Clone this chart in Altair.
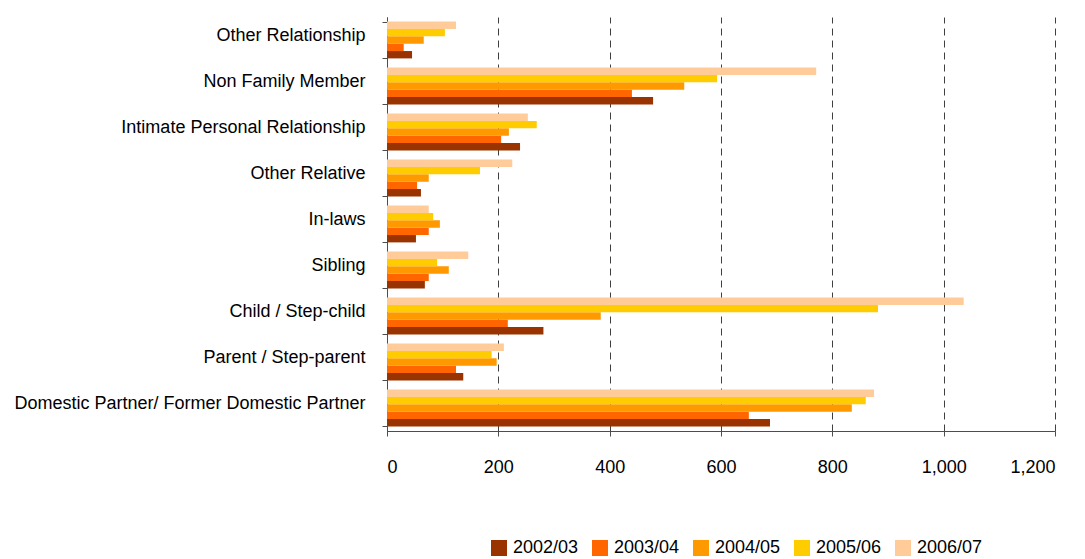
import altair as alt
import pandas as pd

categories = [
    "Other Relationship",
    "Non Family Member",
    "Intimate Personal Relationship",
    "Other Relative",
    "In-laws",
    "Sibling",
    "Child / Step-child",
    "Parent / Step-parent",
    "Domestic Partner/ Former Domestic Partner",
]
years = ["2002/03", "2003/04", "2004/05", "2005/06", "2006/07"]
v_2002_03 = [45, 478, 239, 61, 52, 68, 281, 137, 688]
v_2003_04 = [30, 440, 205, 54, 75, 75, 217, 124, 650]
v_2004_05 = [66, 534, 219, 75, 95, 111, 384, 197, 835]
v_2005_06 = [104, 593, 269, 167, 83, 90, 882, 188, 860]
v_2006_07 = [124, 771, 253, 225, 75, 146, 1036, 210, 875]
colors = ["#993300", "#FF6600", "#FF9900", "#FFCC00", "#FFCC99"]
x_ticks = [0, 200, 400, 600, 800, 1000, 1200]

series = [v_2002_03, v_2003_04, v_2004_05, v_2005_06, v_2006_07]
rows = []
for y, vals in zip(years, series):
    for c, v in zip(categories, vals):
        rows.append({"category": c, "year": y, "value": v})
df = pd.DataFrame(rows)

FONT = "Liberation Sans"
AXIS_COLOR = "#4d4d4d"

chart = (
    alt.Chart(df)
    .mark_bar()
    .encode(
        x=alt.X(
            "value:Q",
            scale=alt.Scale(domain=[0, 1200], nice=False),
            axis=alt.Axis(
                values=x_ticks,
                format=",d",
                title=None,
                grid=True,
                gridDash=[7, 5],
                gridColor="#404040",
                gridWidth=1,
                domainColor=AXIS_COLOR,
                tickColor=AXIS_COLOR,
                tickSize=5,
                labelPadding=22,
                labelFontSize=18,
                labelFont=FONT,
                labelColor="#000000",
                labelOverlap=False,
            ),
        ),
        y=alt.Y(
            "category:N",
            sort=categories,
            scale=alt.Scale(paddingInner=0.2, paddingOuter=0.1),
            axis=alt.Axis(
                title=None,
                tickBand="extent",
                tickSize=5,
                domainColor=AXIS_COLOR,
                tickColor=AXIS_COLOR,
                labelPadding=17,
                labelOffset=-5,
                labelFontSize=18,
                labelFont=FONT,
                labelColor="#000000",
                labelLimit=450,
            ),
        ),
        yOffset=alt.YOffset(
            "year:N",
            sort=list(reversed(years)),
            scale=alt.Scale(paddingInner=0, paddingOuter=0),
        ),
        color=alt.Color(
            "year:N",
            scale=alt.Scale(domain=years, range=colors),
            legend=alt.Legend(
                title=None,
                orient="none",
                direction="horizontal",
                legendX=103,
                legendY=522,
                symbolType="square",
                symbolSize=256,
                symbolStrokeWidth=0,
                labelFontSize=18,
                labelFont=FONT,
                labelColor="#000000",
                labelOffset=5,
                columnPadding=12,
            ),
        ),
    )
    .properties(
        width=668,
        height=414,
        padding={"top": 0, "left": 5, "right": 5, "bottom": 5},
    )
    .configure_view(stroke=None)
)

chart.save("out.html", embed_options={"renderer": "svg", "actions": False})
